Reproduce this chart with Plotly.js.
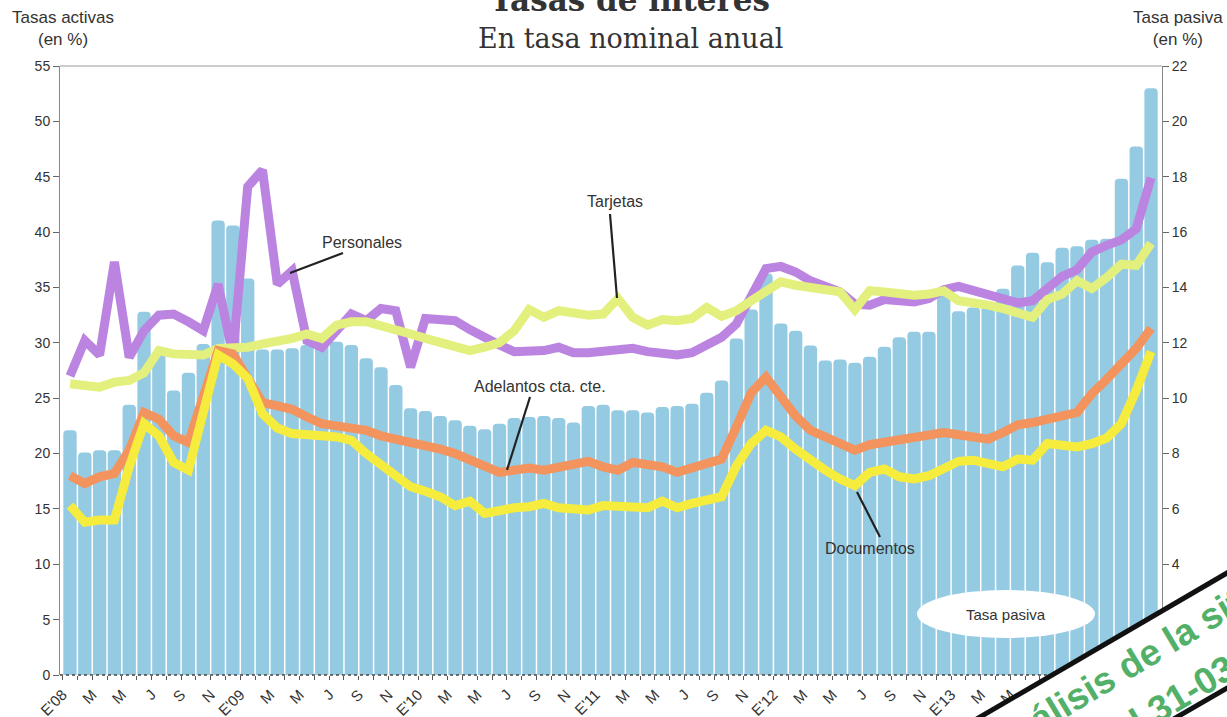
<!DOCTYPE html>
<html>
<head>
<meta charset="utf-8">
<script src="https://cdn.plot.ly/plotly-3.0.1.min.js"></script>
<style>html,body{margin:0;padding:0;background:#fff;}#chart{width:1227px;height:717px;}</style>
</head>
<body>
<div id="chart"></div>
<script>
// Months: Jan 2008 (index 0) ... Feb 2014 (index 73)
const tickLabels = ["E'08","M","M","J","S","N","E'09","M","M","J","S","N","E'10","M","M","J","S","N",
  "E'11","M","M","J","S","N","E'12","M","M","J","S","N","E'13","M","M","J","S","N","E'14"];

// Tasa pasiva (right axis, %)
const tasaPasiva = [8.84,8.04,8.12,8.12,9.76,13.12,11.6,10.28,10.92,11.96,16.42,16.24,
  14.32,11.76,11.76,11.8,11.92,11.96,12.04,11.92,11.44,11.12,10.48,9.64,
  9.54,9.36,9.2,9.0,8.88,9.08,9.28,9.32,9.36,9.28,9.12,9.72,
  9.76,9.56,9.56,9.48,9.68,9.72,9.8,10.2,10.64,12.16,13.2,14.5,
  12.7,12.44,11.9,11.36,11.4,11.28,11.5,11.86,12.2,12.4,12.4,13.7,
  13.14,13.28,13.4,13.95,14.79,15.25,14.91,15.43,15.49,15.72,15.76,17.93,
  19.09,21.2];

// Tasas activas (left axis, %)
const personales = [27.0,30.2,28.9,37.3,28.7,31.1,32.5,32.6,31.9,31.1,35.3,28.9,
  44.1,45.6,35.3,36.5,30.2,29.6,31.1,32.6,32.0,33.1,32.9,27.8,
  32.2,32.1,32.0,31.2,30.4,29.8,29.2,29.2,29.3,29.6,29.1,29.1,
  29.2,29.3,29.5,29.2,29.0,28.9,29.1,29.8,30.5,31.7,34.4,36.7,
  36.9,36.4,35.6,35.2,34.6,33.5,33.4,33.9,33.7,33.7,34.0,34.8,
  35.1,34.7,34.4,34.0,33.6,33.8,35.0,36.0,36.6,38.2,38.8,39.3,
  40.3,44.9];

const tarjetas = [26.3,26.15,26.0,26.45,26.6,27.3,29.3,29.0,28.9,28.9,29.5,29.5,
  29.6,29.9,30.1,30.4,30.8,30.4,31.6,31.9,31.9,31.6,31.3,30.8,
  30.4,30.1,29.6,29.3,29.6,30.0,31.1,33.0,32.3,32.9,32.7,32.5,
  32.6,34.0,32.3,31.6,32.1,32.0,32.2,33.2,32.4,32.9,33.8,34.7,
  35.5,35.2,35.0,34.9,34.6,33.0,34.7,34.6,34.4,34.3,34.4,34.7,
  33.8,33.7,33.4,33.1,32.6,32.3,33.9,34.4,35.6,34.9,35.9,37.1,
  37.0,39.0];

const adelantos = [18.0,17.3,17.9,18.2,20.3,23.7,23.1,21.6,21.0,25.5,29.3,29.0,
  26.9,24.6,24.3,24.0,23.3,22.7,22.5,22.4,22.1,21.6,21.3,21.2,
  20.7,20.4,20.0,19.4,18.8,18.3,18.5,18.7,18.5,18.8,19.2,19.3,
  18.8,18.5,19.2,19.0,18.8,18.3,18.7,18.9,19.5,22.4,25.5,26.9,
  25.1,23.4,22.1,21.5,20.9,20.3,20.8,21.0,21.2,21.5,21.7,21.9,
  21.7,21.5,21.3,21.9,22.6,22.8,23.2,23.4,23.7,25.4,26.7,28.1,
  29.5,31.3];

const documentos = [15.3,13.8,14.0,14.0,18.8,22.7,21.6,19.2,18.5,23.5,28.9,28.1,
  26.8,23.6,22.3,21.8,21.8,21.6,21.5,21.2,20.0,19.0,18.0,17.0,
  16.6,16.1,15.3,15.7,14.6,14.9,15.1,15.2,15.5,15.1,14.9,14.9,
  15.3,15.3,15.2,15.1,15.7,15.1,15.5,15.7,16.1,18.9,20.9,22.1,
  21.5,20.4,19.4,18.5,17.7,17.1,18.3,18.6,17.9,17.7,18.0,18.6,
  19.3,19.4,19.1,18.8,19.5,19.4,20.9,20.8,20.6,20.9,21.4,22.7,
  25.7,29.2];

const x = tasaPasiva.map((_, i) => i);
const tickVals = [], tickText = [];
for (let i = 0; i <= x.length; i++) {
  tickVals.push(i - 0.5);
  tickText.push(i % 2 === 0 && tickLabels[i / 2] !== undefined ? tickLabels[i / 2] : "");
}

// pixel -> paper helpers for decorations
const L = 60, R = 1162, T = 66, B = 675;
const px = v => (v - L) / (R - L);
const py = v => (B - v) / (B - T);

const FONT = "Liberation Sans, Arial, sans-serif";
// lines use the left axis (yaxis2, overlaying) so they are drawn above the bars
const lineTrace = (y, color, name) => ({
  type: "scatter", mode: "lines", x: x, y: y, name: name, yaxis: "y2",
  line: {color: color, width: 9, shape: "linear"}, hoverinfo: "skip"
});

const traces = [
  {type: "bar", x: x, y: tasaPasiva, yaxis: "y", name: "Tasa pasiva",
   marker: {color: "#94cae2", line: {width: 0}, cornerradius: 4}, hoverinfo: "skip"},
  lineTrace(personales, "#bb84e0", "Personales"),
  lineTrace(tarjetas, "#e3f07e", "Tarjetas"),
  lineTrace(adelantos, "#f3945f", "Adelantos cta. cte."),
  lineTrace(documentos, "#f6ec3e", "Documentos")
];

const seg = (x0, y0, x1, y1, color, w, dash) => ({
  type: "line", xref: "paper", yref: "paper",
  x0: px(x0), y0: py(y0), x1: px(x1), y1: py(y1),
  line: {color: color, width: w, dash: dash || "solid"}
});

const shapes = [
  seg(60, 66, 1162, 66, "#9a9a9a", 1),
  seg(60, 675, 1162, 675, "#444", 1.5, "dot"),
  seg(343, 253, 290, 273, "#222", 2.2),
  seg(610, 214, 617, 298, "#222", 2.2),
  seg(530, 397, 507, 470, "#222", 2.2),
  seg(857, 492, 880, 537, "#222", 2.2),
  {type: "circle", xref: "paper", yref: "paper", x0: px(917), x1: px(1095), y0: py(590), y1: py(638),
   fillcolor: "#ffffff", line: {width: 0}},
  {type: "path", xref: "paper", yref: "paper",
   path: `M ${px(960)} ${py(728.7)} L ${px(1240)} ${py(565.4)} L ${px(1240)} ${py(680.5)} L ${px(1160)} ${py(726.9)} Z`,
   fillcolor: "#ffffff", line: {width: 0}},
  seg(960, 728.7, 1240, 565.4, "#111", 5),
  seg(1160, 726.9, 1240, 680.5, "#111", 5)
];

const ann = (text, xp, yp, size, extra) => Object.assign({
  text: text, xref: "paper", yref: "paper", x: px(xp), y: py(yp),
  xanchor: "center", yanchor: "middle", showarrow: false,
  font: {family: FONT, size: size, color: "#333"}
}, extra || {});

const stampFont = {family: FONT, size: 37, color: "#52b068"};
const annotations = [
  ann("En tasa nominal anual", 630, 38, 27, {font: {family: "DejaVu Serif, serif", size: 27, color: "#333"}}),
  ann("Tasas activas<br>(en %)", 63, 29, 17),
  ann("Tasa pasiva<br>(en %)", 1178, 29, 17),
  ann("Personales", 362, 242, 16),
  ann("Tarjetas", 615, 202, 16),
  ann("Adelantos cta. cte.", 540, 386, 16),
  ann("Documentos", 870, 548, 16),
  ann("Tasa pasiva", 1006, 614, 15),
  ann("<b>Análisis de la situación</b>", 1165, 643, 37, {textangle: -31, font: stampFont}),
  ann("<b>al 31-03-2014</b>", 1214, 675, 37, {textangle: -31, font: stampFont})
];

const layout = {
  width: 1227, height: 717,
  margin: {l: L, r: 1227 - R, t: T, b: 717 - B, pad: 0},
  paper_bgcolor: "#ffffff", plot_bgcolor: "#ffffff",
  showlegend: false,
  title: {text: "<b>Tasas de interés</b>", x: 630 / 1227, xanchor: "center", xref: "container",
          y: 1, yref: "container", yanchor: "middle",
          font: {family: "DejaVu Serif, serif", size: 31, color: "#333"}},
  bargap: 0.1,
  xaxis: {range: [-0.675, 73.74], tickmode: "array", tickvals: tickVals, ticktext: tickText,
          tickangle: -45, ticks: "outside", ticklen: 4, tickcolor: "#555",
          tickfont: {family: FONT, size: 15, color: "#333"},
          showgrid: false, zeroline: false, showline: false, automargin: false, fixedrange: true},
  yaxis: {range: [0, 22], dtick: 2, tick0: 0, side: "right", ticks: "outside", ticklen: 6,
          tickcolor: "#666", tickfont: {family: FONT, size: 14, color: "#333"},
          showgrid: false, zeroline: false, showline: true, linecolor: "#888", linewidth: 1,
          automargin: false, fixedrange: true},
  yaxis2: {range: [0, 55], dtick: 5, tick0: 0, overlaying: "y", side: "left", ticks: "outside", ticklen: 6,
           tickcolor: "#666", tickfont: {family: FONT, size: 14, color: "#333"},
           showgrid: false, zeroline: false, showline: true, linecolor: "#888", linewidth: 1,
           automargin: false, fixedrange: true},
  shapes: shapes,
  annotations: annotations
};

Plotly.newPlot("chart", traces, layout, {displayModeBar: false, staticPlot: true});
</script>
</body>
</html>
